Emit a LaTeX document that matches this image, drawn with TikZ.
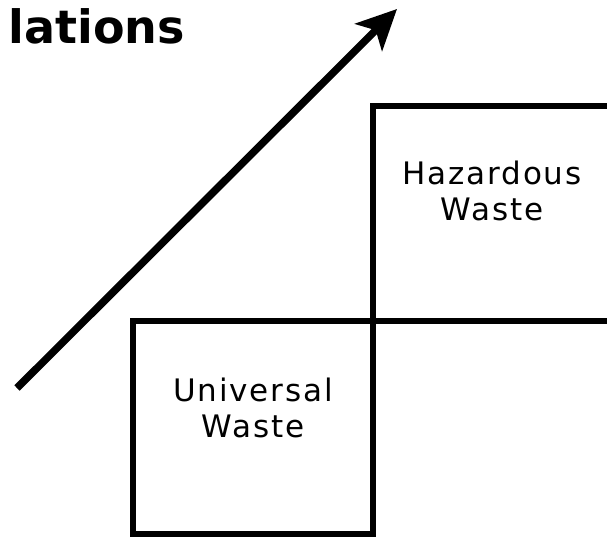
\documentclass[tikz,border=0pt]{standalone}
\usepackage{fontspec}
\usepackage{tikz}
\usetikzlibrary{arrows.meta,positioning}
\newfontfamily\labelfont{DejaVu Sans}[LetterSpace=6]
\newfontfamily\titlefont{DejaVu Sans}

\begin{document}
\begin{tikzpicture}[x=1pt,y=-1pt,
  wastebox/.style={draw,line width=5.5pt,inner sep=0pt,outer sep=0pt},
  wastelabel/.style={align=center,inner sep=0pt,font=\labelfont\fontsize{31}{36}\selectfont},
  titletext/.style={inner sep=0pt,font=\titlefont\bfseries\fontsize{46}{50}\selectfont},
  trendarrow/.style={line width=7.5pt,-{Stealth[length=40pt,width=38pt,inset=10pt]}}]
  \clip (0,0) rectangle (607,537);
  \useasboundingbox (0,0) rectangle (607,537);

  \node[wastebox,minimum width=267pt,minimum height=215pt] (haz) at (506.5,213.5) {};
  \node[wastebox,minimum width=240pt,minimum height=213pt] (univ) at (253,427.5) {};

  \node[wastelabel] (hazlbl)  at (492,191) {Hazardous\\Waste};
  \node[wastelabel] (univlbl) at (253,407.5) {Universal\\Waste};

  \node[titletext,anchor=base east] (title) at (185,44) {lations};

  \coordinate (tail) at (17,388);
  \coordinate (head) at (397,9);
  \draw[trendarrow] (tail) -- (head);
\end{tikzpicture}
\end{document}
